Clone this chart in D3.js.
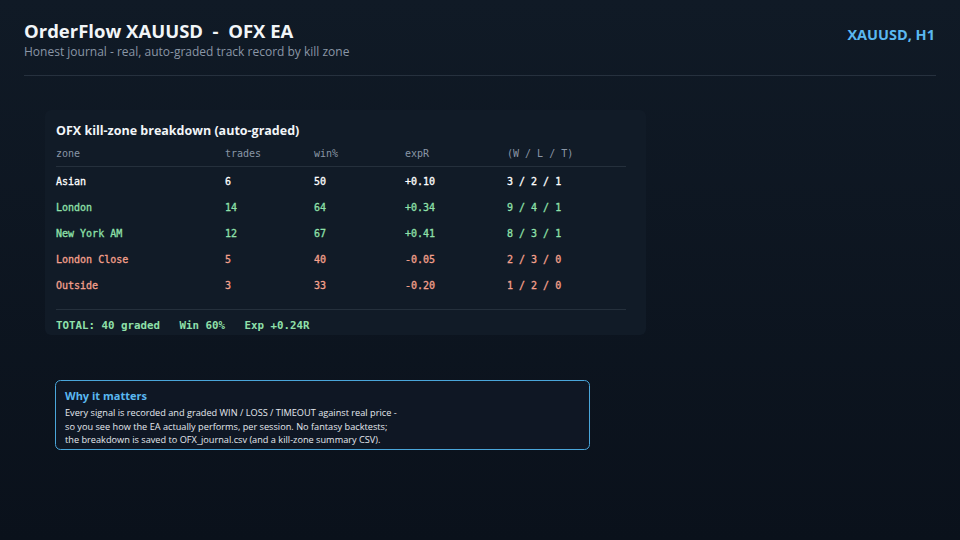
<!DOCTYPE html>
<html><head><meta charset="utf-8">
<script src="https://cdn.jsdelivr.net/npm/d3@7"></script>
<style>body{margin:0;background:#0d1520;}svg{display:block}</style>
</head><body><svg id="c" width="960" height="540"></svg>
<script>
const columns = ["zone","trades","win%","expR","(W / L / T)"];
const zones = ["Asian","London","New York AM","London Close","Outside"];
const trades = [6,14,12,5,3];
const winPct = [50,64,67,40,33];
const expR = ["+0.10","+0.34","+0.41","-0.05","-0.20"];
const wlt = ["3 / 2 / 1","9 / 4 / 1","8 / 3 / 1","2 / 3 / 0","1 / 2 / 0"];
const rowColors = ["#ffffff","#8fe0aa","#8fe0aa","#f4a08c","#f4a08c"];
const totalText = "TOTAL: 40 graded   Win 60%   Exp +0.24R";
const noteLines = ["Every signal is recorded and graded WIN / LOSS / TIMEOUT against real price -",
"so you see how the EA actually performs, per session. No fantasy backtests;",
"the breakdown is saved to OFX_journal.csv (and a kill-zone summary CSV)."];

const svg = d3.select("#c");
const defs = svg.append("defs");
const g = defs.append("linearGradient").attr("id","bg").attr("x1",0).attr("y1",0).attr("x2",0).attr("y2",1);
g.append("stop").attr("offset",0).attr("stop-color","#101a26");
g.append("stop").attr("offset",1).attr("stop-color","#0a111b");
svg.append("rect").attr("width",960).attr("height",540).attr("fill","url(#bg)");
const sans = "'Open Sans', 'Noto Sans', sans-serif", mono = "'DejaVu Sans Mono', monospace";
svg.append("text").attr("x",24).attr("y",38).attr("fill","#f2f5f8").attr("font-family",sans).attr("font-weight",700).attr("font-size",18.5).style("white-space","pre").text("OrderFlow XAUUSD  -  OFX EA");
svg.append("text").attr("x",24).attr("y",56).attr("fill","#8a96a6").attr("font-family",sans).attr("font-size",12).text("Honest journal - real, auto-graded track record by kill zone");
svg.append("text").attr("x",935).attr("y",40).attr("text-anchor","end").attr("fill","#5ab8f0").attr("font-family",sans).attr("font-weight",700).attr("font-size",14.5).text("XAUUSD, H1");
svg.append("line").attr("x1",24).attr("x2",936).attr("y1",75.5).attr("y2",75.5).attr("stroke","#26313e");

svg.append("rect").attr("x",45).attr("y",110).attr("width",601).attr("height",225).attr("rx",6).attr("fill","#111b27");
svg.append("text").attr("x",56).attr("y",135).attr("fill","#f2f5f8").attr("font-family",sans).attr("font-weight",700).attr("font-size",12.5).text("OFX kill-zone breakdown (auto-graded)");
const xs = {"zone":56,"trades":225,"win%":314,"expR":405,"(W / L / T)":507};
svg.selectAll(".h").data(columns).join("text").attr("x",d=>xs[d]).attr("y",157).attr("fill","#8a96a6").attr("font-family",mono).attr("font-size",10).text(d=>d);
svg.append("line").attr("x1",56).attr("x2",626).attr("y1",166.5).attr("y2",166.5).attr("stroke","#25303c");
const y = d3.scaleBand().domain(zones).range([168,298]);
const rows = zones.map((z,i)=>[z,trades[i],winPct[i],expR[i],wlt[i]]);
rows.forEach((r,i)=>{
  svg.selectAll(".r"+i).data(r).join("text").attr("x",(d,j)=>xs[columns[j]]).attr("y",y(zones[i])+y.bandwidth()/2+4)
   .attr("fill",rowColors[i]).attr("font-family",mono).attr("font-size",10).attr("stroke",rowColors[i]).attr("stroke-width",0.3).style("white-space","pre").text(d=>d);
});
svg.append("line").attr("x1",56).attr("x2",626).attr("y1",309.5).attr("y2",309.5).attr("stroke","#25303c");
svg.append("text").attr("x",56).attr("y",329).attr("fill","#8fe0aa").attr("font-family",mono).attr("font-weight",700).attr("font-size",10.8).style("white-space","pre").text(totalText);

svg.append("rect").attr("x",55.5).attr("y",380.5).attr("width",534).attr("height",69).attr("rx",5).attr("fill","#0f1724").attr("stroke","#4aa6da");
svg.append("text").attr("x",65).attr("y",400).attr("fill","#5ab8f0").attr("font-family",sans).attr("font-weight",700).attr("font-size",11).text("Why it matters");
svg.selectAll(".n").data(noteLines).join("text").attr("x",65).attr("y",(d,i)=>416+i*13.5).attr("fill","#e4e8ee").attr("font-family",sans).attr("font-size",9.2).text(d=>d);
</script></body></html>
